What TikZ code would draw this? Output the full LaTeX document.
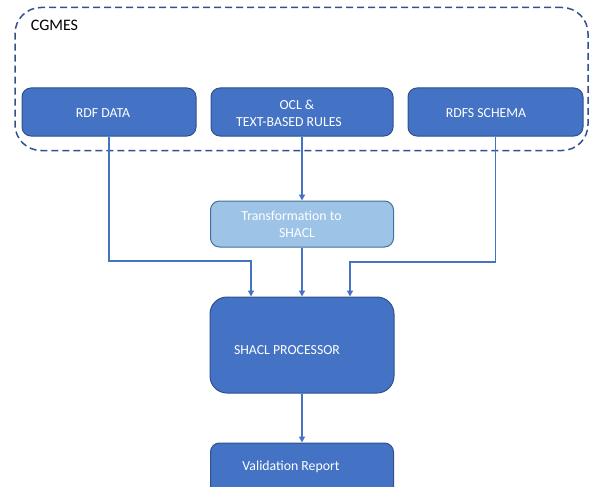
\documentclass[tikz,border=0pt]{standalone}
\usepackage{fontspec}
\setmainfont{Carlito}
\usetikzlibrary{arrows.meta}
\definecolor{boxblue}{HTML}{4472C4}
\definecolor{boxedge}{HTML}{2F528F}
\definecolor{lightblue}{HTML}{9DC3E6}
\definecolor{lightedge}{HTML}{41719C}
\tikzset{
  blockbox/.style={draw=boxedge, fill=boxblue, line width=1pt, rounded corners=9pt, inner sep=0pt},
  lightbox/.style={draw=lightedge, fill=lightblue, line width=1pt, rounded corners=9pt, inner sep=0pt},
  boxtext/.style={text=white, font=\fontsize{13.8}{16}\selectfont, inner sep=0pt, align=center},
  flow/.style={draw=boxblue, line width=1.3pt, -{Triangle[length=6pt,width=6pt]}},
  groupframe/.style={draw=boxedge, line width=1.5pt, dash pattern=on 7pt off 4pt, rounded corners=26pt}
}
\begin{document}
\begin{tikzpicture}[x=1pt, y=-1pt]
  \useasboundingbox (0,0) rectangle (592,487);

  % CGMES group frame
  \node[groupframe, minimum width=573pt, minimum height=143pt] (cgmes) at (301.5,79) {};
  \node[font=\fontsize{16}{19}\selectfont, inner sep=0pt] (cgmestitle) at (54.5,25) {CGMES};

  % input blocks
  \node[blockbox, minimum width=174pt, minimum height=48pt] (rdf) at (109,112) {};
  \node[blockbox, minimum width=182pt, minimum height=48pt] (ocl) at (302,112) {};
  \node[blockbox, minimum width=175pt, minimum height=48pt] (rdfs) at (495.5,112) {};
  \node[boxtext] (rdft) at (103,113) {RDF DATA};
  \node[boxtext] (oclt1) at (297,105) {OCL \&};
  \node[boxtext] (oclt2) at (289,122) {TEXT-BASED RULES};
  \node[boxtext] (rdfst) at (486,113) {RDFS SCHEMA};

  % transformation step
  \node[lightbox, minimum width=183pt, minimum height=46pt] (trans) at (302,224) {};
  \node[boxtext] (transt1) at (291.5,216) {Transformation to};
  \node[boxtext] (transt2) at (297,233) {SHACL};

  % processor and report
  \node[blockbox, rounded corners=17pt, minimum width=184pt, minimum height=96pt] (proc) at (302,345) {};
  \node[boxtext] (proct) at (287,350) {SHACL PROCESSOR};
  \node[blockbox, minimum width=183pt, minimum height=60pt] (report) at (302,473) {};
  \node[boxtext] (reportt) at (291,467) {Validation Report};

  % connectors
  \coordinate (jl) at (251,261);
  \coordinate (jr) at (350,262);
  \draw[flow] (rdf.south) |- (jl) -- (jl |- proc.north);
  \draw[flow] (rdfs.south) |- (jr) -- (jr |- proc.north);
  \draw[flow] (ocl.south) -- (trans.north);
  \draw[flow] (trans.south) -- (proc.north);
  \draw[flow] (proc.south) -- (report.north);
\end{tikzpicture}
\end{document}
